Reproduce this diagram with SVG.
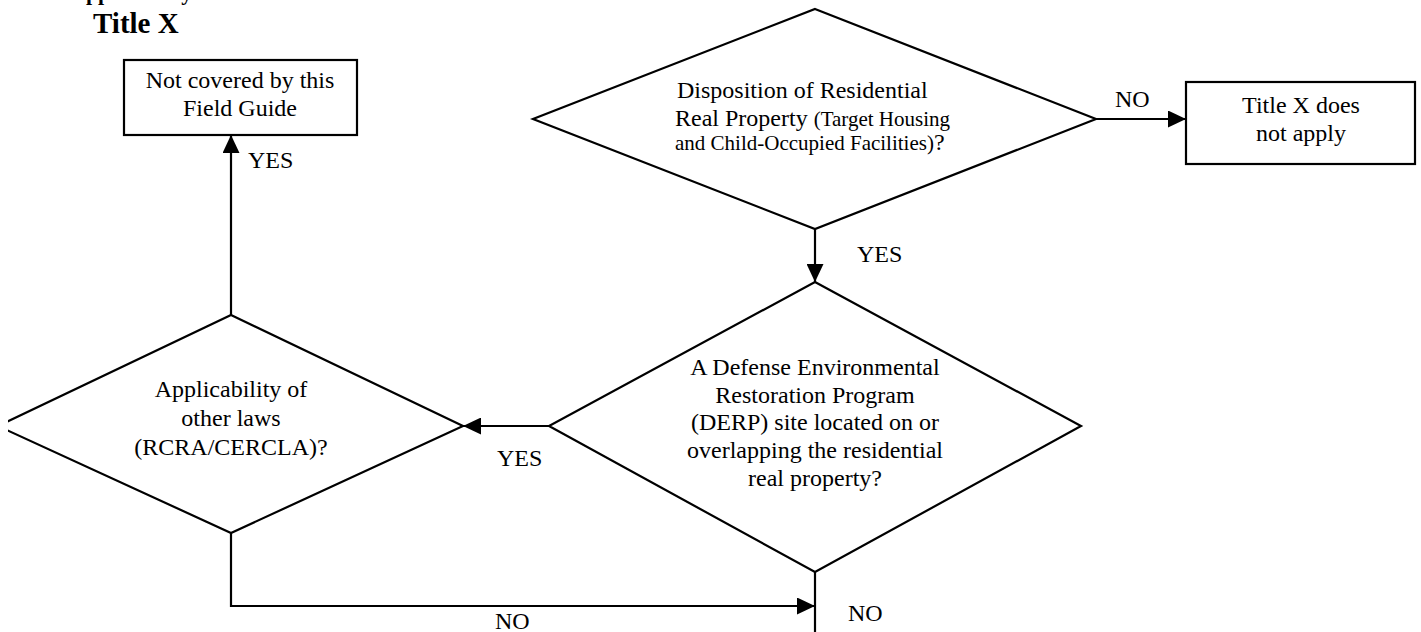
<svg xmlns="http://www.w3.org/2000/svg" width="1421" height="632" viewBox="0 0 1421 632">
<style>
text{font-family:"Liberation Serif","Times New Roman",serif;fill:#000;font-size:24px}
.c{text-anchor:middle}
.b{font-weight:bold;font-size:29px}
.h{font-weight:bold;font-size:22px}
.s{font-size:21px}
.shape{fill:#fff;stroke:#000;stroke-width:2.2}
.ln{fill:none;stroke:#000;stroke-width:2.2}
</style>
<defs>
<marker id="ah" viewBox="0 0 18 17" refX="18" refY="8.5" markerWidth="18" markerHeight="17" markerUnits="userSpaceOnUse" orient="auto">
<path d="M0,0 L18,8.5 L0,17 Z" fill="#000"/>
</marker>
<clipPath id="edge"><rect x="8" y="0" width="1413" height="632"/></clipPath>
</defs>
<rect width="1421" height="632" fill="#fff"/>
<g id="heading">
<text class="h" x="70" y="0">Applicability of</text>
<text class="b" x="93" y="33">Title X</text>
</g>
<g id="connectors">
<line class="ln" x1="1096" y1="119" x2="1186" y2="119" marker-end="url(#ah)"/>
<line class="ln" x1="815" y1="229" x2="815" y2="282" marker-end="url(#ah)"/>
<line class="ln" x1="549" y1="426" x2="463" y2="426" marker-end="url(#ah)"/>
<line class="ln" x1="231" y1="315" x2="231" y2="135" marker-end="url(#ah)"/>
<polyline class="ln" points="231,533 231,606 815,606" marker-end="url(#ah)"/>
<line class="ln" x1="815" y1="572" x2="815" y2="632"/>
<text x="1115" y="107">NO</text>
<text x="857" y="262">YES</text>
<text x="497" y="466">YES</text>
<text x="248" y="168">YES</text>
<text x="495" y="629">NO</text>
<text x="848" y="621">NO</text>
</g>
<g id="not-covered">
<rect class="shape" x="124" y="60" width="233" height="75"/>
<text class="c" x="240" y="88">Not covered by this</text>
<text class="c" x="240" y="116">Field Guide</text>
</g>
<g id="disposition">
<polygon class="shape" points="815,9 1096,119 815,229 533,119"/>
<text x="677" y="98">Disposition of Residential</text>
<text x="675" y="126">Real Property <tspan class="s">(Target Housing</tspan></text>
<text x="675" y="150"><tspan class="s">and Child-Occupied Facilities)</tspan>?</text>
</g>
<g id="title-x-not-apply">
<rect class="shape" x="1186" y="82" width="229" height="82"/>
<text class="c" x="1301" y="113">Title X does</text>
<text class="c" x="1301" y="141">not apply</text>
</g>
<g id="derp">
<polygon class="shape" points="815,282 1081,426 815,572 549,426"/>
<text class="c" x="815" y="375">A Defense Environmental</text>
<text class="c" x="815" y="403">Restoration Program</text>
<text class="c" x="815" y="430">(DERP) site located on or</text>
<text class="c" x="815" y="458">overlapping the residential</text>
<text class="c" x="815" y="486">real property?</text>
</g>
<g id="other-laws">
<polygon class="shape" points="231,315 463,426 231,533 -2,426" clip-path="url(#edge)"/>
<text class="c" x="231" y="397">Applicability of</text>
<text class="c" x="231" y="426">other laws</text>
<text class="c" x="231" y="455">(RCRA/CERCLA)?</text>
</g>
</svg>
